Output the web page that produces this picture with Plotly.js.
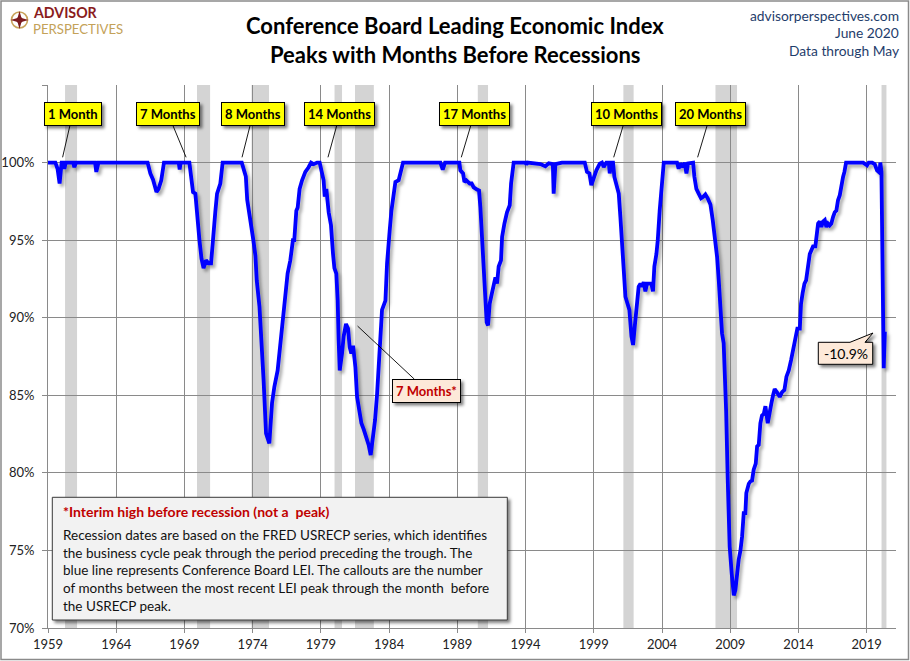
<!DOCTYPE html>
<html><head><meta charset="utf-8">
<script src="https://cdn.plot.ly/plotly-3.0.1.min.js"></script>
<style>
body{margin:0;background:#fff;}
#chart{width:910px;height:661px;}
.scatterlayer .js-line{filter:url(#lineShadow);}
</style>
</head>
<body>
<svg width="0" height="0" style="position:absolute">
<defs>
<filter id="lineShadow" x="-5%" y="-5%" width="110%" height="120%"><feDropShadow dx="2.5" dy="3" stdDeviation="1.8" flood-color="#000" flood-opacity="0.33"/></filter>
<filter id="boxShadow" x="-20%" y="-30%" width="150%" height="190%"><feDropShadow dx="2.5" dy="2.5" stdDeviation="1.5" flood-color="#000" flood-opacity="0.5"/></filter>
</defs></svg>
<div id="chart"></div>
<script>
// ---------------- DATA ----------------
const dates = [1959.00,1959.54,1959.70,1959.85,1960.00,1960.10,1960.20,1960.30,1960.85,1960.93,1961.05,1962.45,1962.54,1962.70,
1966.30,1966.50,1966.70,1966.95,1967.10,1967.30,1967.50,1968.58,1968.65,1968.72,1969.36,1969.48,1969.63,1969.80,1969.90,
1970.10,1970.25,1970.40,1970.58,1970.78,1970.95,1971.10,1971.26,1971.39,1971.63,1971.80,1973.20,1973.40,1973.50,1973.60,
1973.80,1974.05,1974.20,1974.30,1974.50,1974.70,1974.80,1974.98,1975.22,1975.42,1975.59,1975.83,1976.00,1976.15,1976.40,
1976.56,1976.76,1976.95,1977.05,1977.20,1977.30,1977.44,1977.62,1977.86,1978.10,1978.28,1978.47,1978.72,1978.91,1979.03,
1979.20,1979.28,1979.40,1979.57,1979.74,1979.89,1979.99,1980.13,1980.23,1980.30,1980.38,1980.55,1980.67,1980.84,1980.99,
1981.11,1981.23,1981.36,1981.53,1981.65,1981.82,1981.97,1982.14,1982.33,1982.50,1982.65,1982.82,1982.97,1983.12,1983.29,
1983.48,1983.73,1983.85,1984.04,1984.17,1984.46,1984.70,1985.02,1987.76,1987.93,1988.10,1989.15,1989.22,1989.42,1989.52,
1989.66,1989.91,1990.05,1990.20,1990.44,1990.59,1990.69,1990.81,1990.93,1991.06,1991.15,1991.25,1991.37,1991.54,1991.67,
1991.79,1991.91,1992.03,1992.20,1992.28,1992.45,1992.64,1992.84,1992.94,1993.13,1994.00,1994.06,1994.15,1995.09,1995.45,
1995.70,1996.00,1996.06,1996.19,1996.67,1998.34,1998.50,1998.68,1998.82,1999.00,1999.19,1999.44,1999.60,1999.73,1999.92,
2000.10,2000.17,2000.27,2000.41,2000.51,2000.66,2000.83,2000.95,2001.07,2001.19,2001.32,2001.44,2001.61,2001.76,2001.88,
2002.00,2002.17,2002.29,2002.42,2002.54,2002.66,2002.78,2002.90,2003.10,2003.22,2003.34,2003.44,2003.59,2003.69,2003.83,
2003.96,2004.13,2005.10,2005.22,2005.34,2005.54,2005.66,2005.79,2005.91,2006.15,2006.28,2006.37,2006.52,2006.69,2006.86,
2007.02,2007.18,2007.35,2007.55,2007.72,2007.86,2008.04,2008.16,2008.28,2008.40,2008.52,2008.60,2008.70,2008.82,2008.96,
2009.11,2009.26,2009.38,2009.50,2009.62,2009.75,2009.87,2009.99,2010.11,2010.18,2010.36,2010.48,2010.60,2010.72,2010.87,
2010.97,2011.09,2011.21,2011.33,2011.46,2011.58,2011.75,2011.87,2012.02,2012.14,2012.26,2012.43,2012.63,2012.80,2012.97,
2013.12,2013.29,2013.46,2013.55,2013.70,2013.85,2013.92,2014.10,2014.19,2014.31,2014.44,2014.56,2014.68,2014.83,2014.95,
2015.07,2015.24,2015.32,2015.44,2015.56,2015.68,2015.80,2015.93,2016.05,2016.17,2016.29,2016.41,2016.54,2016.66,2016.78,
2016.90,2017.03,2017.15,2017.27,2017.37,2017.49,2018.74,2018.91,2019.03,2019.15,2019.40,2019.59,2019.76,2019.88,2019.96,
2020.00,2020.083,2020.167,2020.25,2020.33];
const leiPct = [100,100,99.6,98.65,100,100,99.6,100,100,99.7,100,100,99.4,100,
100,99.3,98.9,98.1,98.3,98.86,100,100,99.55,100,100,99.0,98.1,98.0,96.7,
95.0,93.8,93.2,93.7,93.5,93.5,95.4,96.8,98.0,98.65,100,100,99.4,99.1,97.6,
96.6,95.0,94.0,92.4,90.7,88.1,86.0,82.55,81.9,84.5,85.55,86.6,88.1,89.5,91.1,
92.85,93.7,95.0,95.0,96.9,97.1,98.3,98.86,99.4,99.7,100,99.9,100,100,99.4,
98.86,97.8,98.3,96.8,95.96,94.1,93.2,92.85,91.1,88.6,86.6,87.7,88.8,89.6,89.3,
88.1,87.7,88.2,86.8,84.9,84.05,83.2,82.8,82.3,81.8,81.15,82.3,83.4,85.1,87.5,
90.5,91.1,93.5,95.6,96.9,98.75,98.86,100,100,99.55,100,100,99.5,99.3,98.75,
98.86,98.65,98.65,98.4,98.26,98.2,97.1,95.4,93.5,91.35,89.7,89.5,90.9,91.6,92.3,
92.6,92.2,93.3,93.7,95.2,96.07,96.8,97.25,98.65,100,100,99.87,100,99.9,99.76,
99.95,99.9,98.0,99.9,100,100,99.4,99.3,98.55,99.0,99.5,99.93,100,99.72,100,
100,99.3,100,100,99.07,98.43,98.0,96.5,95.0,93.3,91.35,91.0,90.5,88.8,88.24,
89.4,90.7,92.0,92.2,92.0,92.3,91.7,92.2,92.2,92.2,91.7,93.3,94.1,95.0,96.9,
98.2,100,100,99.6,99.95,99.7,100,99.3,99.95,100,100,99.1,98.3,98.0,97.7,
97.8,97.95,97.7,97.3,96.28,95.2,93.9,92.4,90.7,89.0,88.35,86.5,84.0,79.5,75.25,
73.5,72.1,72.46,73.5,74.4,75.0,75.9,77.4,77.4,78.7,79.3,79.45,79.5,80.2,80.6,
81.7,81.8,83.2,83.7,83.8,84.3,83.2,83.9,84.5,85.0,85.4,85.2,84.9,85.2,85.34,
86.2,86.6,87.26,87.7,88.3,89.0,89.3,89.3,90.9,91.6,92.2,92.4,93.3,94.1,94.35,
94.6,94.6,95.2,96.07,96.2,95.85,96.2,96.3,95.85,96.07,95.95,96.07,96.5,96.8,96.9,
97.57,97.9,98.65,99.07,99.4,100,100,99.9,99.83,100,100,99.9,99.5,99.4,99.55,
100,99.4,93.0,86.75,89.1];

const recStart = [1960.25,1969.92,1973.92,1980.0,1981.5,1990.5,2001.17,2007.92,2020.09];
const recEnd   = [1961.13,1970.88,1975.2,1980.55,1982.88,1991.25,2001.92,2009.5,2020.45];

const calloutText  = ['1 Month','7 Months','8 Months','14 Months','17 Months','10 Months','20 Months'];
const calloutDate  = [1960.07,1969.12,1973.22,1979.52,1989.29,2000.46,2006.61];
const interimText = '7 Months*';
const interimDate = 1981.69, interimVal = 89.46;
const lastChangeText = '-10.9%';

const xTicks = [1959,1964,1969,1974,1979,1984,1989,1994,1999,2004,2009,2014,2019];
const yTicks = [70,75,80,85,90,95,100,105];
const yTickText = ['70%','75%','80%','85%','90%','95%','100%',''];

// --------------- LAYOUT ---------------
const W=910,H=661,L=48,R=14,T=85,B=33;
const pw=W-L-R, ph=H-T-B;
const px=v=>(v-L)/pw, py=v=>(H-B-v)/ph;
const FONT='Lato, "Open Sans", sans-serif';

const shapes=[];
recStart.forEach((s,i)=>shapes.push({type:'rect',xref:'x',yref:'paper',x0:s,x1:recEnd[i],y0:0,y1:1,
  fillcolor:'#d4d4d4',line:{width:0},layer:'below'}));
// note box
shapes.push({type:'rect',xref:'paper',yref:'paper',x0:px(52.3),x1:px(507.3),y0:py(497.3),y1:py(620),
  fillcolor:'#f2f2f2',line:{color:'#3a3a3a',width:1},layer:'above',name:'note'});
// -10.9% callout box with tail
const cb=[[818.3,342.3],[850,342.3],[873,333],[865,342.3],[872.7,342.3],[872.7,364.3],[818.3,364.3]];
shapes.push({type:'path',xref:'paper',yref:'paper',
  path:'M'+cb.map(p=>px(p[0])+','+py(p[1])).join(' L')+' Z',
  fillcolor:'#fde9d9',line:{color:'#000',width:1},layer:'above',name:'last'});
// outer border
shapes.push({type:'rect',xref:'paper',yref:'paper',x0:px(1),x1:px(908.5),y0:py(659.5),y1:py(1),
  fillcolor:'rgba(0,0,0,0)',line:{color:'#8a8a8a',width:1.5},layer:'above'});
// logo compass
shapes.push({type:'circle',xref:'paper',yref:'paper',x0:px(11.5),x1:px(27.5),y0:py(28),y1:py(12),
  fillcolor:'#ffffff',line:{color:'#c9a45c',width:1.6},layer:'above'});
const cx=19.5,cy=20;
const star=[[cx,cy-9],[cx+2,cy-2],[cx+9,cy],[cx+2,cy+2],[cx,cy+9],[cx-2,cy+2],[cx-9,cy],[cx-2,cy-2]];
shapes.push({type:'path',xref:'paper',yref:'paper',
  path:'M'+star.map(p=>px(p[0])+','+py(p[1])).join(' L')+' Z',
  fillcolor:'#7d1b1f',line:{width:0},layer:'above'});
shapes.push({type:'circle',xref:'paper',yref:'paper',x0:px(16.5),x1:px(22.5),y0:py(23),y1:py(17),
  fillcolor:'#7d1b1f',line:{width:0},layer:'above'});

const ann=[];
// titles
ann.push({xref:'paper',yref:'paper',x:px(455),y:py(25),text:'Conference Board Leading Economic Index',showarrow:false,
  font:{family:FONT,size:22,color:'#000',weight:700},xanchor:'center',yanchor:'middle'});
ann.push({xref:'paper',yref:'paper',x:px(455),y:py(54),text:'Peaks with Months Before Recessions',showarrow:false,
  font:{family:FONT,size:22,color:'#000',weight:700},xanchor:'center',yanchor:'middle'});
// top-right
[['advisorperspectives.com',15],['June 2020',32.5],['Data through May',50.5]].forEach(t=>
  ann.push({xref:'paper',yref:'paper',x:px(901),y:py(t[1]),text:t[0],showarrow:false,xanchor:'right',yanchor:'middle',
    font:{family:FONT,size:13.8,color:'#1f3d6b'}}));
// logo text
ann.push({xref:'paper',yref:'paper',x:px(31),y:py(12.8),text:'ADVISOR',showarrow:false,xanchor:'left',yanchor:'middle',
  font:{family:FONT,size:14.2,color:'#8a1c20',weight:700}});
ann.push({xref:'paper',yref:'paper',x:px(31),y:py(29.4),text:'PERSPECTIVES',showarrow:false,xanchor:'left',yanchor:'middle',
  font:{family:FONT,size:13.2,color:'#c4a259'}});
// callouts
const calloutAx=[10,-18,11,12,13,13,13];
const shadowIdx=[];
calloutText.forEach((t,i)=>{
  shadowIdx.push(ann.length);
  ann.push({x:calloutDate[i],y:100.34,xref:'x',yref:'y',text:t,showarrow:true,arrowhead:0,arrowwidth:0.9,arrowcolor:'#000',
    ax:calloutAx[i],ay:-43.5,standoff:0,bgcolor:'#ffff00',bordercolor:'#000',borderwidth:1,borderpad:3,
    font:{family:FONT,size:13,color:'#000',weight:700}});
});
shadowIdx.push(ann.length);
ann.push({x:interimDate,y:interimVal,xref:'x',yref:'y',text:interimText,showarrow:true,arrowhead:0,arrowwidth:0.9,arrowcolor:'#000',
  ax:69,ay:64.5,standoff:0,bgcolor:'#fde9d9',bordercolor:'#000',borderwidth:1,borderpad:3,
  font:{family:FONT,size:13,color:'#c00000',weight:700}});
ann.push({xref:'paper',yref:'paper',x:px(845.5),y:py(353.5),text:lastChangeText,showarrow:false,xanchor:'center',yanchor:'middle',
  font:{family:FONT,size:14,color:'#000'}});
// notes
ann.push({xref:'paper',yref:'paper',x:px(61),y:py(511.7),text:'*Interim high before recession (not a  peak)',showarrow:false,
  xanchor:'left',yanchor:'middle',font:{family:FONT,size:14,color:'#c00000',weight:700}});
const noteLines=['Recession dates are based on the FRED USRECP series, which identifies',
 'the business cycle peak through the period preceding the trough. The',
 'blue line represents Conference Board LEI. The callouts are the number',
 'of months between the most recent LEI peak through the month  before',
 'the USRECP peak.'];
const noteY=[534.7,552.5,570.3,588,605.8];
noteLines.forEach((t,i)=>ann.push({xref:'paper',yref:'paper',x:px(61),y:py(noteY[i]),text:t,showarrow:false,
  xanchor:'left',yanchor:'middle',font:{family:FONT,size:13.5,color:'#111'}}));

const trace={x:dates,y:leiPct,type:'scatter',mode:'lines',line:{color:'#0000ff',width:3.8},hoverinfo:'skip'};

const layout={width:W,height:H,margin:{l:L,r:R,t:T,b:B},paper_bgcolor:'#fff',plot_bgcolor:'#fff',showlegend:false,
  xaxis:{range:[1959,2021.15],tickmode:'array',tickvals:xTicks,ticktext:xTicks.map(String),showgrid:true,gridcolor:'#8a8a8a',
    gridwidth:1,zeroline:false,showline:true,linecolor:'#8a8a8a',linewidth:1,ticks:'outside',ticklen:4,tickcolor:'#8a8a8a',
    tickfont:{family:FONT,size:13,color:'#222'}},
  yaxis:{range:[70,105],tickmode:'array',tickvals:yTicks,ticktext:yTickText,showgrid:true,gridcolor:'#8a8a8a',gridwidth:1,
    zeroline:false,showline:true,linecolor:'#8a8a8a',linewidth:1,ticks:'outside',ticklen:5,tickcolor:'#8a8a8a',
    ticklabelstandoff:5,tickfont:{family:FONT,size:13,color:'#222'}},
  shapes:shapes,annotations:ann};

Plotly.newPlot('chart',[trace],layout,{displayModeBar:false,staticPlot:true}).then(gd=>{
  shadowIdx.forEach(i=>{
    const r=gd.querySelector('g.annotation[data-index="'+i+'"] rect.bg');
    if(r) r.style.filter='url(#boxShadow)';
  });
  gd.querySelectorAll('.shapelayer path').forEach(p=>{
    const idx=+p.getAttribute('data-index');
    const s=layout.shapes[idx];
    if(s && (s.name==='note'||s.name==='last')) p.style.filter='url(#boxShadow)';
  });
});
</script>
</body></html>
